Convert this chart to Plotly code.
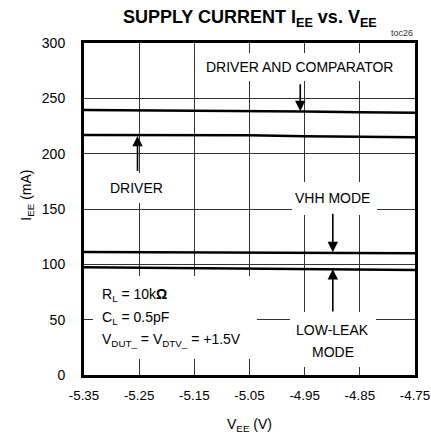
import plotly.graph_objects as go

FONT = "Liberation Sans, Arial, sans-serif"

# V_EE sweep (V) and supply current I_EE (mA) for each mode
vee = [-5.35, -5.25, -5.15, -5.05, -4.95, -4.85, -4.75]
iee_drv_comp = [239.5, 239.3, 239.1, 238.9, 238.1, 237.5, 237.0]
iee_driver = [216.9, 216.8, 216.7, 216.6, 215.8, 215.2, 214.8]
iee_vhh = [111.1, 111.0, 110.9, 110.8, 110.3, 110.1, 110.0]
iee_lowleak = [97.3, 97.0, 96.6, 96.2, 95.7, 95.3, 94.9]

x_ticks = [-5.35, -5.25, -5.15, -5.05, -4.95, -4.85, -4.75]
x_ticktext = ["-5.35", "-5.25", "-5.15", "-5.05", "-4.95", "-4.85", "-4.75"]
y_ticks = [0, 50, 100, 150, 200, 250, 300]

fig = go.Figure()
for ys in (iee_drv_comp, iee_driver, iee_vhh, iee_lowleak):
    fig.add_trace(go.Scatter(x=vee, y=ys, mode="lines", showlegend=False,
                             line=dict(color="black", width=2.5), hoverinfo="skip"))

# white boxes behind the labels, cutting the grid like the datasheet does
# (center x, center y, width px, height px)
boxes = [(-4.960, 278.3, 198, 28),     # DRIVER AND COMPARATOR
         (-5.255, 169.0, 63, 30),      # DRIVER
         (-4.896, 159.5, 85, 33),      # VHH MODE
         (-4.899, 32.1, 86, 55),       # LOW-LEAK MODE
         (-5.185, 52.0, 164, 83)]      # conditions
for x, y, w, h in boxes:
    fig.add_annotation(x=x, y=y, text=" ", showarrow=False, width=w, height=h,
                       bgcolor="white", borderpad=0, borderwidth=0)

txt = dict(family=FONT, size=14, color="black")
labels = [(-4.960, 278.3, "DRIVER AND COMPARATOR"),
          (-5.255, 169, "DRIVER"),
          (-4.899, 160, "VHH MODE"),
          (-4.899, 40.5, "LOW-LEAK"),
          (-4.899, 20.5, "MODE")]
for x, y, t in labels:
    fig.add_annotation(x=x, y=y, text=t, showarrow=False, font=txt)

cond = ["R<sub>L</sub> = 10k<b>Ω</b>", "C<sub>L</sub> = 0.5pF",
        "V<sub>DUT_</sub> = V<sub>DTV_</sub> = +1.5V"]
for i, t in enumerate(cond):
    fig.add_annotation(x=-5.321, y=72 - i * 20.3, text=t, showarrow=False,
                       xanchor="left", font=txt)

# arrows: (head x, head y, tail y)
arrows = [(-4.958, 238.4, 264), (-5.253, 216.0, 183), (-4.899, 111.0, 147), (-4.899, 95.6, 56)]
for x, y, yt in arrows:
    fig.add_annotation(x=x, y=y, ax=x, ay=yt, axref="x", ayref="y", text="",
                       showarrow=True, arrowhead=2, arrowsize=1.3, arrowwidth=1.6,
                       arrowcolor="black")

fig.add_annotation(xref="paper", yref="paper", x=0.5, y=1.0, yshift=25, yanchor="middle",
                   text="<b>SUPPLY CURRENT I<sub>EE</sub> vs. V<sub>EE</sub></b>",
                   showarrow=False, font=dict(family=FONT, size=18, color="black"))
fig.add_annotation(xref="paper", yref="paper", x=1.0, y=1.0, yshift=10, xanchor="right",
                   yanchor="middle", text="toc26", showarrow=False,
                   font=dict(family=FONT, size=9, color="#333"))
fig.add_annotation(xref="paper", yref="paper", x=0.5, y=0, yshift=-50, yanchor="middle",
                   text="V<sub>EE</sub> (V)", showarrow=False, font=txt)
fig.add_annotation(xref="paper", yref="paper", x=0, xshift=-57, y=0.54, textangle=-90,
                   xanchor="center", yanchor="middle",
                   text="I<sub>EE</sub> (mA)", showarrow=False, font=txt)

# automargin off: the "-4.75" label sits at the very edge and must not shrink the plot
fig.update_xaxes(range=[-5.35, -4.75], tickvals=x_ticks, ticktext=x_ticktext,
                 showgrid=True, gridcolor="#333", gridwidth=1, zeroline=False,
                 showline=True, linecolor="black", linewidth=3, mirror=True,
                 ticks="", ticklabelstandoff=6, tickfont=dict(txt, size=13.4),
                 automargin=False)
fig.update_yaxes(range=[0, 300], tickvals=y_ticks,
                 showgrid=True, gridcolor="#333", gridwidth=1, zeroline=False,
                 showline=True, linecolor="black", linewidth=3, mirror=True,
                 ticks="", ticklabelstandoff=13, tickfont=txt, automargin=False)
fig.update_layout(width=431, height=438, margin=dict(l=84, r=16, t=43, b=63),
                  plot_bgcolor="white", paper_bgcolor="white", font=txt)

# drop the browser's default body margin and scrollbars so the figure fills the window
page_fix = ("document.body.style.margin = '0px';"
            "document.body.style.overflow = 'hidden';"
            "document.documentElement.style.overflow = 'hidden';")
fig.write_html("out.html", config={"displayModeBar": False}, post_script=page_fix)
